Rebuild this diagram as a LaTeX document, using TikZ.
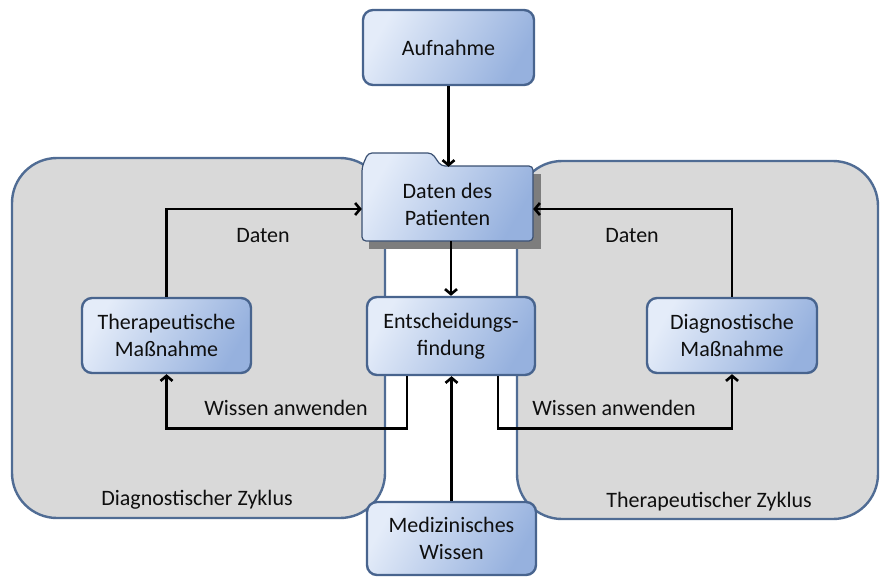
\documentclass[tikz,border=0pt]{standalone}
\usepackage{fontspec}
\setmainfont{Carlito}
\usetikzlibrary{arrows.meta,calc}
\definecolor{boxlight}{RGB}{228,236,249}
\definecolor{boxdark}{RGB}{150,177,222}
\definecolor{boxline}{RGB}{72,100,142}
\definecolor{cyclefill}{RGB}{217,217,217}
\definecolor{cycleline}{RGB}{80,108,148}
\definecolor{shadowgray}{RGB}{125,125,125}
\definecolor{txt}{RGB}{15,15,15}
\begin{document}
\begin{tikzpicture}[x=1pt,y=-1pt,
  font=\fontsize{22}{27}\selectfont, text=txt,
  procbox/.style={draw=boxline, line width=2.4pt, rounded corners=10pt,
    top color=boxlight, bottom color=boxdark, shading angle=60,
    align=center, inner sep=0pt},
  cyclebox/.style={draw=cycleline, line width=2.4pt, fill=cyclefill, rounded corners=45pt},
  folderstyle/.style={draw=boxline!80!black, line width=1.2pt, rounded corners=4pt,
    top color=boxlight, bottom color=boxdark, shading angle=60},
  arr/.style={draw=black, line width=2.6pt, -{Straight Barb[length=5pt,width=12pt]}},
  lbl/.style={inner sep=0pt}]
\useasboundingbox (0,0) rectangle (880,576);
% cycles
\draw[cyclebox] (12,158) rectangle (385,518);
\draw[cyclebox] (517,161) rectangle (878,519);
% folder shadow and folder
\fill[shadowgray] (369,174) rectangle (541,249);
\path[folderstyle] (362,241) -- (362,167) -- (368,153) -- (432,153) -- (441,166)
  -- (533,166) -- (533,241) -- cycle;
\node[align=center, inner sep=0pt, minimum width=171pt, minimum height=74pt] (pat)
  at (447.5,204) {Daten des\\Patienten};
% process boxes
\node[procbox, minimum width=171pt, minimum height=75pt] (auf) at (448.5,47.5) {Aufnahme};
\node[procbox, minimum width=168pt, minimum height=78pt] (ent) at (451,336) {Entscheidungs-\\findung};
\node[procbox, minimum width=169pt, minimum height=73pt] (med) at (451.5,538.5) {Medizinisches\\Wissen};
\node[procbox, minimum width=169pt, minimum height=75pt] (thm) at (166.5,335.5) {Therapeutische\\Maßnahme};
\node[procbox, minimum width=170pt, minimum height=75pt] (dm) at (732,335.5) {Diagnostische\\Maßnahme};
% labels
\node[lbl] (ld) at (263,236) {Daten};
\node[lbl] (rd) at (632,236) {Daten};
\node[lbl] (lw) at (286,408) {Wissen anwenden};
\node[lbl] (rw) at (614,408) {Wissen anwenden};
\node[lbl] (dz) at (197,500) {Diagnostischer Zyklus};
\node[lbl] (tz) at (709,502) {Therapeutischer Zyklus};
% connectors
\draw[arr] (auf.south) -- (auf.south |- pat.north);
\draw[arr] (ent.north |- pat.south) -- (ent.north);
\draw[arr] (med.north) -- (med.north |- ent.south);
\draw[arr] (thm.north) |- ($(pat.west)+(0,5)$);
\draw[arr] (dm.north) |- ($(pat.east)+(0,5)$);
\draw[arr] ($(ent.south)+(-44,0)$) -- ++(0,52) -| (thm.south);
\draw[arr] ($(ent.south)+(47,0)$) -- ++(0,52) -| (dm.south);
\end{tikzpicture}
\end{document}
